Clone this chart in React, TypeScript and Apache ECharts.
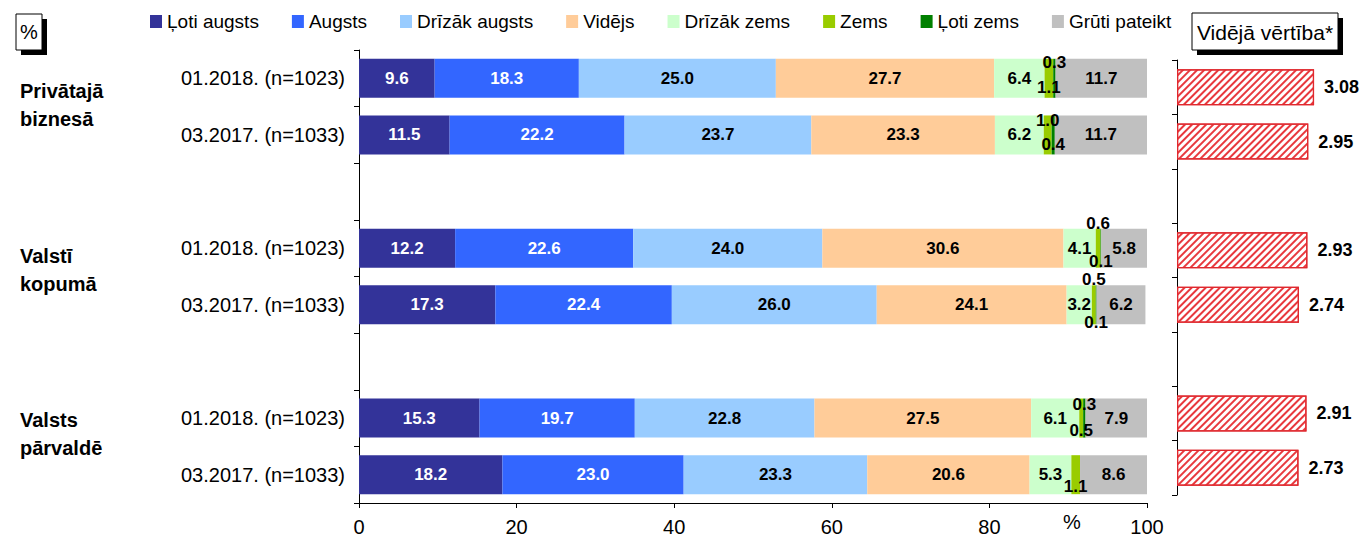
import React, { useEffect, useRef } from 'react';
import * as echarts from 'echarts';

// ---- data ----
const groupLabels = ['Privātajā\nbiznesā', 'Valstī\nkopumā', 'Valsts\npārvaldē'];
const rowLabels = [
  '01.2018. (n=1023)', '03.2017. (n=1033)',
  '01.2018. (n=1023)', '03.2017. (n=1033)',
  '01.2018. (n=1023)', '03.2017. (n=1033)',
];
const seriesNames = ['Ļoti augsts', 'Augsts', 'Drīzāk augsts', 'Vidējs', 'Drīzāk zems', 'Zems', 'Ļoti zems', 'Grūti pateikt'];
const lotiAugsts = [9.6, 11.5, 12.2, 17.3, 15.3, 18.2];
const augsts = [18.3, 22.2, 22.6, 22.4, 19.7, 23.0];
const drizakAugsts = [25.0, 23.7, 24.0, 26.0, 22.8, 23.3];
const videjs = [27.7, 23.3, 30.6, 24.1, 27.5, 20.6];
const drizakZems = [6.4, 6.2, 4.1, 3.2, 6.1, 5.3];
const zems = [1.1, 1.0, 0.6, 0.5, 0.5, 1.1];
const lotiZems = [0.3, 0.4, 0.1, 0.1, 0.3, 0.0];
const gruti = [11.7, 11.7, 5.8, 6.2, 7.9, 8.6];
const meanValues = [3.08, 2.95, 2.93, 2.74, 2.91, 2.73];
const xTickValues = [0, 20, 40, 60, 80, 100];

// layout helpers (not data)
const slotRows = [0, 1, -1, 2, 3, -1, 4, 5];
const zemsLabelAt = ['bottom', 'top', 'top', 'top', 'bottom', 'bottom'];
const lotiZemsLabelAt = ['top', 'bottom', 'bottom', 'bottom', 'top', 'none'];
const topLabelOffset = [4, 5, -5, -6, 6, 4];
const bottomLabelOffset = [29, 29, 33, 37, 32, 31];
const colors = ['#333399', '#3366FF', '#99CCFF', '#FFCC99', '#CCFFCC', '#99CC00', '#008000', '#C0C0C0'];
const FONT = 'Arial, "Liberation Sans", sans-serif';

export default function App() {
  const ref = useRef<HTMLDivElement>(null);
  useEffect(() => {
    if (!ref.current) return;
    const chart = echarts.init(ref.current, null, { renderer: 'svg' });
    const values = [lotiAugsts, augsts, drizakAugsts, videjs, drizakZems, zems, lotiZems, gruti];
    const placements: Record<number, string[]> = { 5: zemsLabelAt, 6: lotiZemsLabelAt };
    const cats = slotRows.map((_, i) => 's' + i);
    const catLabel = (v: string) => {
      const r = slotRows[Number(v.slice(1))];
      return r < 0 ? '' : rowLabels[r];
    };
    const fmt1 = (p: any) => (p.value ? Number(p.value).toFixed(1) : '');

    const stackSeries = values.map((arr, si) => ({
      name: seriesNames[si],
      type: 'bar',
      stack: 'total',
      xAxisIndex: 0,
      yAxisIndex: 0,
      barWidth: 39,
      itemStyle: { color: colors[si] },
      label: {
        show: true,
        position: 'inside',
        formatter: fmt1,
        color: si < 2 ? '#fff' : '#000',
        fontWeight: 'bold',
        fontSize: 17,
        fontFamily: FONT,
      },
      data: slotRows.map((r) => {
        if (r < 0) return null;
        const v = arr[r];
        const pl = placements[si];
        if (!pl) return v;
        const pos = pl[r];
        if (pos === 'none') return { value: v, label: { show: false } };
        return {
          value: v,
          label: {
            position: ['50%', pos === 'top' ? topLabelOffset[r] : bottomLabelOffset[r]],
            align: 'center',
            verticalAlign: 'middle',
          },
        };
      }),
    }));

    const option: any = {
      animation: false,
      textStyle: { fontFamily: FONT },
      legend: {
        data: seriesNames,
        left: 145,
        top: 7,
        icon: 'rect',
        itemWidth: 12,
        itemHeight: 13,
        itemGap: 33,
        selectedMode: false,
        textStyle: { fontSize: 19, color: '#000', fontFamily: FONT },
      },
      grid: [
        { left: 359, top: 50, width: 788, height: 453, containLabel: false },
        { left: 1177, top: 60, width: 178, height: 435, containLabel: false },
      ],
      xAxis: [
        {
          type: 'value',
          gridIndex: 0,
          min: 0,
          max: 100,
          interval: 20,
          splitLine: { show: false },
          axisLine: { show: true, lineStyle: { color: '#000', width: 1 } },
          axisTick: { show: true, length: 5, lineStyle: { color: '#000' } },
          axisLabel: {
            fontSize: 20,
            color: '#000',
            margin: 14,
            fontFamily: FONT,
            customValues: xTickValues,
          },
        },
        {
          type: 'value',
          gridIndex: 1,
          min: 0,
          max: 4,
          show: false,
          splitLine: { show: false },
        },
      ],
      yAxis: [
        {
          type: 'category',
          gridIndex: 0,
          inverse: true,
          data: cats,
          axisLine: { show: true, lineStyle: { color: '#000', width: 1 } },
          axisTick: { show: true, length: 5, lineStyle: { color: '#000' } },
          axisLabel: {
            formatter: catLabel,
            fontSize: 20,
            color: '#000',
            margin: 14,
            fontFamily: FONT,
            interval: 0,
          },
        },
        {
          type: 'category',
          gridIndex: 1,
          inverse: true,
          data: cats,
          axisLine: { show: true, lineStyle: { color: '#000', width: 1 } },
          axisTick: { show: true, length: 5, lineStyle: { color: '#000' } },
          axisLabel: { show: false },
        },
      ],
      series: [
        ...stackSeries,
        {
          name: 'Vidējā vērtība',
          type: 'bar',
          xAxisIndex: 1,
          yAxisIndex: 1,
          barWidth: 36,
          itemStyle: {
            color: '#ffffff',
            borderColor: '#E0282E',
            borderWidth: 1.2,
            decal: {
              symbol: 'rect',
              symbolSize: 1,
              color: '#E8383D',
              dashArrayX: [1, 0],
              dashArrayY: [1.6, 2.6],
              rotation: -Math.PI / 4,
            },
          },
          label: {
            show: true,
            position: 'right',
            distance: 10,
            formatter: (p: any) => Number(p.value).toFixed(2),
            fontWeight: 'bold',
            fontSize: 18,
            color: '#000',
            fontFamily: FONT,
          },
          data: slotRows.map((r) => (r < 0 ? null : meanValues[r])),
        },
      ],
      graphic: [
        // "%" box
        { type: 'rect', shape: { x: 21, y: 19, width: 26, height: 36 }, style: { fill: '#000' } },
        { type: 'rect', shape: { x: 16, y: 14, width: 26, height: 36 }, style: { fill: '#fff', stroke: '#000', lineWidth: 1 } },
        {
          type: 'text',
          x: 29,
          y: 32,
          style: { text: '%', font: `20px ${FONT}`, fill: '#000', textAlign: 'center', textVerticalAlign: 'middle' },
        },
        // "Vidējā vērtība*" box
        { type: 'rect', shape: { x: 1197, y: 18, width: 146, height: 37 }, style: { fill: '#000' } },
        { type: 'rect', shape: { x: 1192, y: 13, width: 146, height: 37 }, style: { fill: '#fff', stroke: '#000', lineWidth: 1 } },
        {
          type: 'text',
          x: 1265,
          y: 32,
          style: { text: 'Vidējā vērtība*', font: `21px ${FONT}`, fill: '#000', textAlign: 'center', textVerticalAlign: 'middle' },
        },
        // x axis unit
        {
          type: 'text',
          x: 1072,
          y: 522,
          style: { text: '%', font: `20px ${FONT}`, fill: '#000', textAlign: 'center', textVerticalAlign: 'middle' },
        },
        // group labels
        ...groupLabels.map((g, i) => ({
          type: 'text',
          x: 20,
          y: [105, 270, 434][i],
          style: {
            text: g,
            font: `bold 20px ${FONT}`,
            fill: '#000',
            textAlign: 'left',
            textVerticalAlign: 'middle',
            lineHeight: 28,
          },
        })),
      ],
    };
    chart.setOption(option);
    return () => chart.dispose();
  }, []);
  return (
    <div
      ref={ref}
      style={{ position: 'absolute', left: 0, top: 0, width: 1362, height: 540, background: '#fff' }}
    />
  );
}
